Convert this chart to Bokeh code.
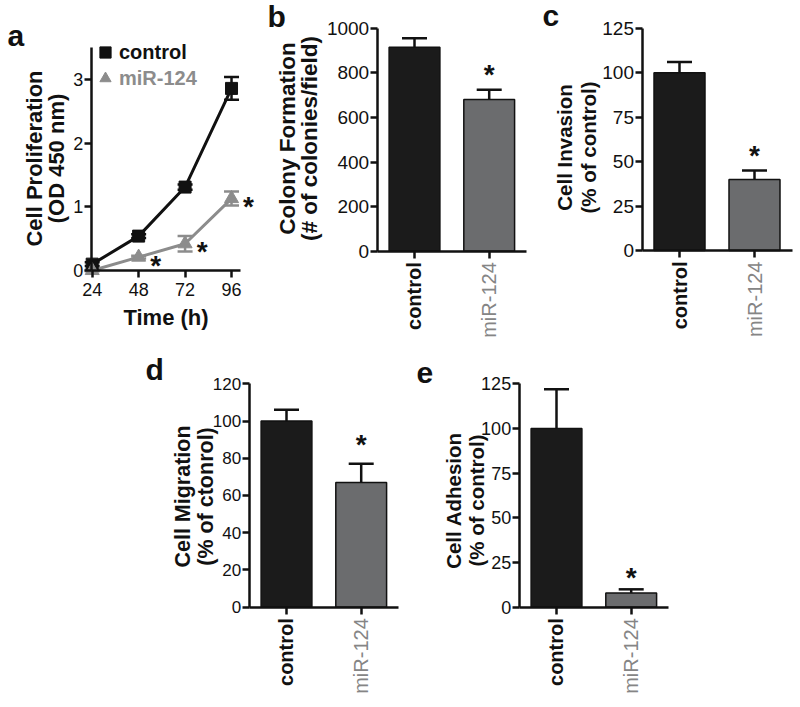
import math
from bokeh.plotting import figure
from bokeh.models import (ColumnDataSource, Range1d, FixedTicker, Whisker, TeeHead,
                          Label, Legend, LegendItem, Spacer, LinearAxis)
from bokeh.layouts import column, row
from bokeh.embed import file_html
from bokeh.resources import INLINE

FONT = "Liberation Sans"

# ---------------- data ----------------
# panel a: cell proliferation time course
time_h = [24, 48, 72, 96]
ctrl_od = [0.10, 0.54, 1.31, 2.86]
ctrl_err = [0.03, 0.03, 0.04, 0.18]
mir_od = [0.00, 0.21, 0.42, 1.13]
mir_err = [0.01, 0.02, 0.12, 0.11]
mir_sig = [False, True, True, True]
a_yticks = [0, 1, 2, 3]
a_ytitle = ["Cell Proliferation", "(OD 450 nm)"]

# bar panels
groups = ["control", "miR-124"]
colony = [915, 680]
colony_err = [40, 44]
invasion = [100, 40]
invasion_err = [6, 5]
migration = [100, 67]
migration_err = [6, 10]
adhesion = [100, 8]
adhesion_err = [22, 2]
sig = [False, True]

b_yticks = [0, 200, 400, 600, 800, 1000]
c_yticks = [0, 25, 50, 75, 100, 125]
d_yticks = [0, 20, 40, 60, 80, 100, 120]
e_yticks = [0, 25, 50, 75, 100, 125]
b_ytitle = ["Colony Formation", "(# of colonies/field)"]
c_ytitle = ["Cell Invasion", "(% of control)"]
d_ytitle = ["Cell Migration", "(% of ctonrol)"]
e_ytitle = ["Cell Adhesion", "(% of control)"]

BAR_COLORS = ["#1b1b1b", "#6b6c6e"]
LABEL_COLORS = ["#111111", "#858585"]
LABEL_STYLES = ["bold", "normal"]
CTRL_COLOR = "#111111"
MIR_COLOR = "#8c8c8c"
INK = "#111111"


# ---------------- helpers (layout only) ----------------
def xr(x0, w, v_ref, px_ref, ppu):
    start = v_ref - (px_ref - x0) / ppu
    return Range1d(start, start + w / ppu)


def yr(y0, h, v_ref, px_ref, ppu):
    end = v_ref + (px_ref - y0) / ppu
    return Range1d(end - h / ppu, end)


def base_fig(w, h, x_range, y_range):
    p = figure(width=w, height=h, x_range=x_range, y_range=y_range,
               output_backend="svg", toolbar_location=None,
               x_axis_location=None, y_axis_location=None)
    p.min_border = 0
    p.min_border_left = 0
    p.min_border_right = 0
    p.min_border_top = 0
    p.min_border_bottom = 0
    p.outline_line_color = None
    p.xgrid.visible = False
    p.ygrid.visible = False
    return p


def style_axis(ax, tick_font="18px"):
    ax.axis_line_width = 2.5
    ax.axis_line_color = INK
    ax.major_tick_line_width = 2.5
    ax.major_tick_line_color = INK
    ax.major_tick_out = 7
    ax.major_tick_in = 0
    ax.minor_tick_line_color = None
    ax.major_label_text_font = FONT
    ax.major_label_text_font_size = tick_font
    ax.major_label_text_color = INK
    ax.major_label_standoff = 1
    ax.axis_label_text_font = FONT
    ax.axis_label_text_font_size = "22px"
    ax.axis_label_text_font_style = "bold"
    ax.axis_label_text_color = INK
    return ax


def add_letter(p, letter, px, py, x0, y0, h):
    p.add_layout(Label(x=px - x0, y=(y0 + h) - py, x_units="screen", y_units="screen",
                       text=letter, text_font=FONT, text_font_size="30px",
                       text_font_style="bold", text_color=INK, text_align="left",
                       text_baseline="alphabetic"))


def add_ytitle(p, lines, xs_px, cy_px, font_size, x0, y0, h):
    for line, lx in zip(lines, xs_px):
        p.add_layout(Label(x=lx - x0, y=(y0 + h) - cy_px, x_units="screen",
                           y_units="screen", angle=math.pi / 2, text=line,
                           text_font=FONT, text_font_size=font_size,
                           text_font_style="bold", text_color=INK,
                           text_align="center", text_baseline="middle"))


def add_star(p, x, y, xo, yo):
    p.add_layout(Label(x=x, y=y, x_offset=xo, y_offset=yo, text="*",
                       text_font=FONT, text_font_size="28px", text_font_style="bold",
                       text_color=INK, text_align="center", text_baseline="alphabetic"))


def bar_panel(x0, y0, w, h, x_anchor_px, x_ppu, y_zero_px, y_ppu, vals, errs, ymax,
              yticks, ytitle, title_xs, title_cy, title_font, tick_font, star_off,
              letter, letter_px):
    p = base_fig(w, h, xr(x0, w, 0, x_anchor_px, x_ppu), yr(y0, h, 0, y_zero_px, y_ppu))
    xs = list(range(len(groups)))
    upper = [v + e for v, e in zip(vals, errs)]
    src = ColumnDataSource(dict(x=xs, top=vals, upper=upper, color=BAR_COLORS))
    p.add_layout(Whisker(source=src, base="x", upper="upper", lower="top",
                         dimension="height", line_width=2.5, line_color=INK,
                         upper_head=TeeHead(size=25, line_width=2.5, line_color=INK),
                         lower_head=None))
    p.vbar(x="x", top="top", width=0.68, fill_color="color", line_color=INK,
           line_width=1.5, source=src)
    yax = style_axis(LinearAxis(fixed_location=-0.5, bounds=(0, ymax),
                                ticker=FixedTicker(ticks=yticks)), tick_font)
    p.add_layout(yax, "left")
    for i, g in enumerate(groups):
        xax = style_axis(LinearAxis(fixed_location=0, bounds=(-0.5, 1.5),
                                    ticker=FixedTicker(ticks=[xs[i]]),
                                    major_label_overrides={xs[i]: g},
                                    major_label_orientation=math.pi / 2))
        xax.major_label_text_font_size = "20px"
        xax.major_label_text_font_style = LABEL_STYLES[i]
        xax.major_label_text_color = LABEL_COLORS[i]
        xax.major_label_standoff = 4
        if i > 0:
            xax.axis_line_color = None
        p.add_layout(xax, "below")
        if sig[i]:
            add_star(p, xs[i], upper[i], 0, star_off)
    add_ytitle(p, ytitle, title_xs, title_cy, title_font, x0, y0, h)
    add_letter(p, letter, letter_px[0], letter_px[1], x0, y0, h)
    return p


# ---------------- panel a ----------------
A_X0, A_Y0, A_W, A_H = 0, 0, 258, 340
pa = base_fig(A_W, A_H, xr(A_X0, A_W, 24, 91.7, 1.935), yr(A_Y0, A_H, 0, 270, 63.67))
ca = ColumnDataSource(dict(t=time_h, y=ctrl_od,
                           lo=[v - e for v, e in zip(ctrl_od, ctrl_err)],
                           hi=[v + e for v, e in zip(ctrl_od, ctrl_err)]))
ma = ColumnDataSource(dict(t=time_h, y=mir_od,
                           lo=[v - e for v, e in zip(mir_od, mir_err)],
                           hi=[v + e for v, e in zip(mir_od, mir_err)]))
for src, col in ((ca, CTRL_COLOR), (ma, MIR_COLOR)):
    pa.add_layout(Whisker(source=src, base="t", upper="hi", lower="lo", dimension="height",
                          line_width=2.5, line_color=col,
                          upper_head=TeeHead(size=15, line_width=2.5, line_color=col),
                          lower_head=TeeHead(size=15, line_width=2.5, line_color=col)))
pa.line("t", "y", source=ca, line_color=CTRL_COLOR, line_width=3)
pa.line("t", "y", source=ma, line_color=MIR_COLOR, line_width=3)
r_ctrl = pa.scatter("t", "y", source=ca, marker="square", size=12, fill_color=CTRL_COLOR,
                    line_color=CTRL_COLOR)
r_mir = pa.scatter("t", "y", source=ma, marker="triangle", size=14, fill_color=MIR_COLOR,
                   line_color=MIR_COLOR)

ax_x = style_axis(LinearAxis(fixed_location=0, bounds=(23.5, 100.5),
                             ticker=FixedTicker(ticks=time_h), axis_label="Time (h)"))
ax_x.major_label_standoff = 5
ax_x.axis_label_standoff = 6
pa.add_layout(ax_x, "below")
ax_y = style_axis(LinearAxis(fixed_location=23.5, bounds=(0, 3.5),
                             ticker=FixedTicker(ticks=a_yticks)))
pa.add_layout(ax_y, "left")
add_ytitle(pa, a_ytitle, (34, 56), 158, "22px", A_X0, A_Y0, A_H)

for i, t in enumerate(time_h):
    if mir_sig[i]:
        add_star(pa, t, mir_od[i], 17, -8)

for label, rend, col, vy in (("control", r_ctrl, CTRL_COLOR, 273),
                             ("miR-124", r_mir, MIR_COLOR, 247)):
    leg = Legend(items=[LegendItem(label=label, renderers=[rend])], location=(91, vy),
                 background_fill_alpha=0, border_line_color=None, padding=0, margin=0,
                 spacing=0, glyph_width=28, glyph_height=30, label_standoff=-6,
                 label_text_font=FONT, label_text_font_size="20px",
                 label_text_font_style="bold", label_text_color=col)
    pa.add_layout(leg)
add_letter(pa, "a", 7, 35, A_X0, A_Y0, A_H)

# ---------------- bar panels ----------------
pb = bar_panel(258, 0, 272, 340, 414, 74.7, 250.7, 0.223, colony, colony_err, 1000,
               b_yticks, b_ytitle, (287, 309), 138, "22.5px", "19px", 15.6,
               "b", (267, 16))
pc = bar_panel(530, 0, 268, 340, 679, 75.0, 250.0, 1.778, invasion, invasion_err, 125,
               c_yticks, c_ytitle, (563.5, 588), 147, "20.5px", "19px", 15,
               "c", (542, 15))
pd = bar_panel(140, 340, 272, 366, 286, 74.7, 606.7, 1.8617, migration, migration_err, 120,
               d_yticks, d_ytitle, (182.5, 205), 496, "21.5px", "17px", 19,
               "d", (145, 369))
pe = bar_panel(412, 340, 270, 366, 556, 74.7, 606.7, 1.787, adhesion, adhesion_err, 125,
               e_yticks, e_ytitle, (453, 475.5), 500, "20.5px", "18px", 12,
               "e", (416, 372))

layout = column(row(pa, pb, pc, spacing=0),
                row(Spacer(width=140, height=366), pd, pe, spacing=0),
                spacing=0)

open("out.html", "w").write(file_html(layout, INLINE))
